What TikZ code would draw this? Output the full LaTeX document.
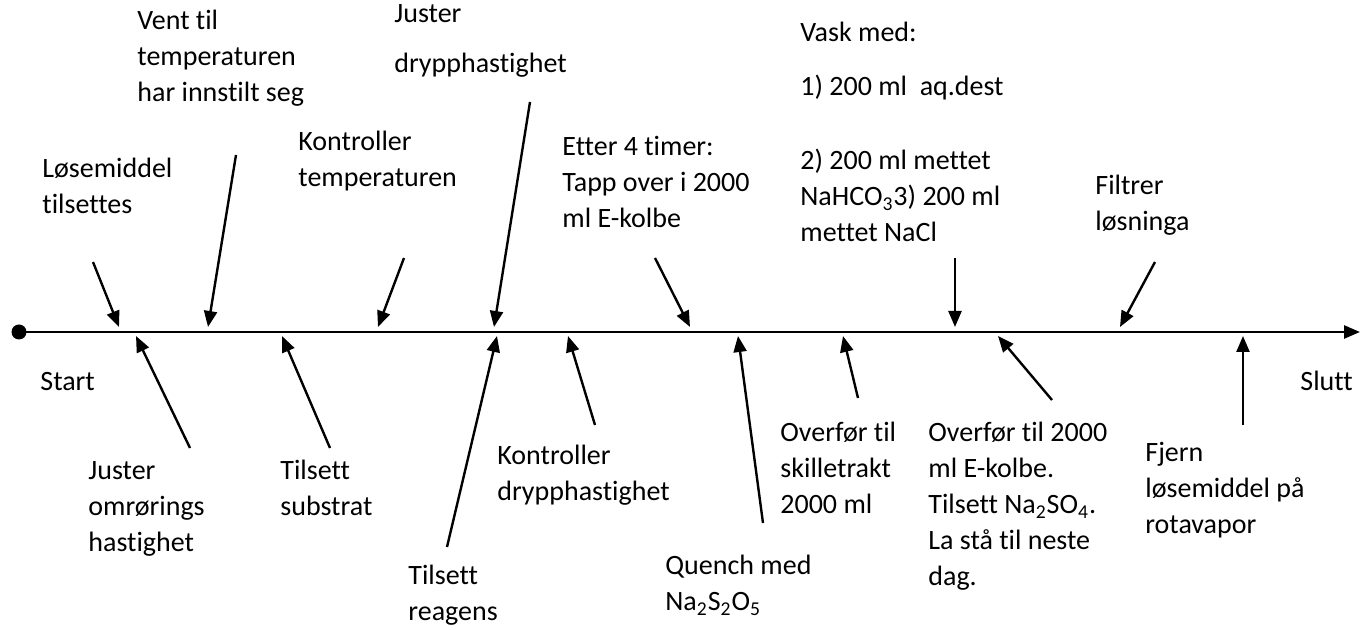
\documentclass[tikz,border=0pt]{standalone}
\usepackage{fontspec}
\setmainfont{Carlito}[Ligatures=NoCommon]
\usepackage{tikz}
\usetikzlibrary{arrows.meta}

% multi-line label with its baseline on the first line
\newcommand{\stepLines}[1]{\begin{tabular}[t]{@{}l@{}}#1\end{tabular}}

\begin{document}
\begin{tikzpicture}[x=0.5pt, y=-0.5pt,
    lbl/.style={anchor=base west, inner sep=0pt, font=\fontsize{14pt}{18pt}\selectfont},
    pointer/.style={-{Triangle[length=8pt,width=6.5pt]}, line width=1.2pt},
    mainLine/.style={-{Triangle[length=8pt,width=6.5pt]}, line width=1.3pt}]
    \useasboundingbox (0,0) rectangle (1362,630);

    % Time line from start to end
    \node[circle, fill=black, inner sep=0pt, minimum size=7.5pt] (startDot) at (19,332) {};
    \coordinate (endPoint) at (1360,332);
    \draw[mainLine] (startDot.center) -- (endPoint);
    \node[lbl] (start) at (40,391) {Start};
    \node[lbl] (slutt) at (1300,391) {Slutt};

    % Steps above the line
    \node[lbl] (losemiddel) at (42,178) {\stepLines{Løsemiddel\\tilsettes}};
    \node[lbl] (vent) at (137,30) {\stepLines{Vent til\\temperaturen\\har innstilt seg}};
    \node[lbl] (kontrollerTemp) at (298,151) {\stepLines{Kontroller\\temperaturen}};
    \node[lbl] (justerDrypp) at (394,23) {\stepLines{Juster\\[7pt]drypphastighet}};
    \node[lbl] (etter) at (562,156) {\stepLines{Etter 4 timer:\\Tapp over i 2000\\ml E-kolbe}};
    \node[lbl] (vask) at (800,42) {\stepLines{Vask med:\\[9pt]1) 200 ml\ \ aq.dest\\[19pt]2) 200 ml mettet\\NaHCO\textsubscript{3}3) 200 ml\\mettet NaCl}};
    \node[lbl] (filtrer) at (1095,195) {\stepLines{Filtrer\\løsninga}};

    \coordinate (losemiddelTail) at (93,262);
    \coordinate (losemiddelHead) at (119,327);
    \coordinate (ventTail) at (236,155);
    \coordinate (ventHead) at (208,327);
    \coordinate (kontrollerTempTail) at (404,258);
    \coordinate (kontrollerTempHead) at (378,327);
    \coordinate (justerDryppTail) at (530,102);
    \coordinate (justerDryppHead) at (494,327);
    \coordinate (etterTail) at (655,258);
    \coordinate (etterHead) at (690,327);
    \coordinate (vaskTail) at (955,258);
    \coordinate (vaskHead) at (955,327);
    \coordinate (filtrerTail) at (1155,262);
    \coordinate (filtrerHead) at (1120,327);

    \draw[pointer] (losemiddelTail) -- (losemiddelHead);
    \draw[pointer] (ventTail) -- (ventHead);
    \draw[pointer] (kontrollerTempTail) -- (kontrollerTempHead);
    \draw[pointer] (justerDryppTail) -- (justerDryppHead);
    \draw[pointer] (etterTail) -- (etterHead);
    \draw[pointer] (vaskTail) -- (vaskHead);
    \draw[pointer] (filtrerTail) -- (filtrerHead);

    % Steps below the line
    \node[lbl] (justerOmroring) at (88,480) {\stepLines{Juster\\omrørings\\hastighet}};
    \node[lbl] (substrat) at (280,480) {\stepLines{Tilsett\\substrat}};
    \node[lbl] (reagens) at (408,585) {\stepLines{Tilsett\\reagens}};
    \node[lbl] (kontrollerDrypp) at (497,465) {\stepLines{Kontroller\\drypphastighet}};
    \node[lbl] (quench) at (665,575) {\stepLines{Quench med\\Na\textsubscript{2}S\textsubscript{2}O\textsubscript{5}}};
    \node[lbl] (skilletrakt) at (780,442) {\stepLines{Overfør til\\skilletrakt\\2000 ml}};
    \node[lbl] (kolbe) at (928,442) {\stepLines{Overfør til 2000\\ml E-kolbe.\\Tilsett Na\textsubscript{2}SO\textsubscript{4}.\\La stå til neste\\dag.}};
    \node[lbl] (fjern) at (1145,462) {\stepLines{Fjern\\løsemiddel på\\rotavapor}};

    \coordinate (justerOmroringTail) at (190,448);
    \coordinate (justerOmroringHead) at (136,336);
    \coordinate (substratTail) at (330,448);
    \coordinate (substratHead) at (282,336);
    \coordinate (reagensTail) at (447,547);
    \coordinate (reagensHead) at (497,336);
    \coordinate (kontrollerDryppTail) at (595,425);
    \coordinate (kontrollerDryppHead) at (568,336);
    \coordinate (quenchTail) at (763,523);
    \coordinate (quenchHead) at (738,336);
    \coordinate (skilletraktTail) at (858,398);
    \coordinate (skilletraktHead) at (843,336);
    \coordinate (kolbeTail) at (1052,400);
    \coordinate (kolbeHead) at (998,336);
    \coordinate (fjernTail) at (1243,425);
    \coordinate (fjernHead) at (1243,336);

    \draw[pointer] (justerOmroringTail) -- (justerOmroringHead);
    \draw[pointer] (substratTail) -- (substratHead);
    \draw[pointer] (reagensTail) -- (reagensHead);
    \draw[pointer] (kontrollerDryppTail) -- (kontrollerDryppHead);
    \draw[pointer] (quenchTail) -- (quenchHead);
    \draw[pointer] (skilletraktTail) -- (skilletraktHead);
    \draw[pointer] (kolbeTail) -- (kolbeHead);
    \draw[pointer] (fjernTail) -- (fjernHead);
\end{tikzpicture}
\end{document}
